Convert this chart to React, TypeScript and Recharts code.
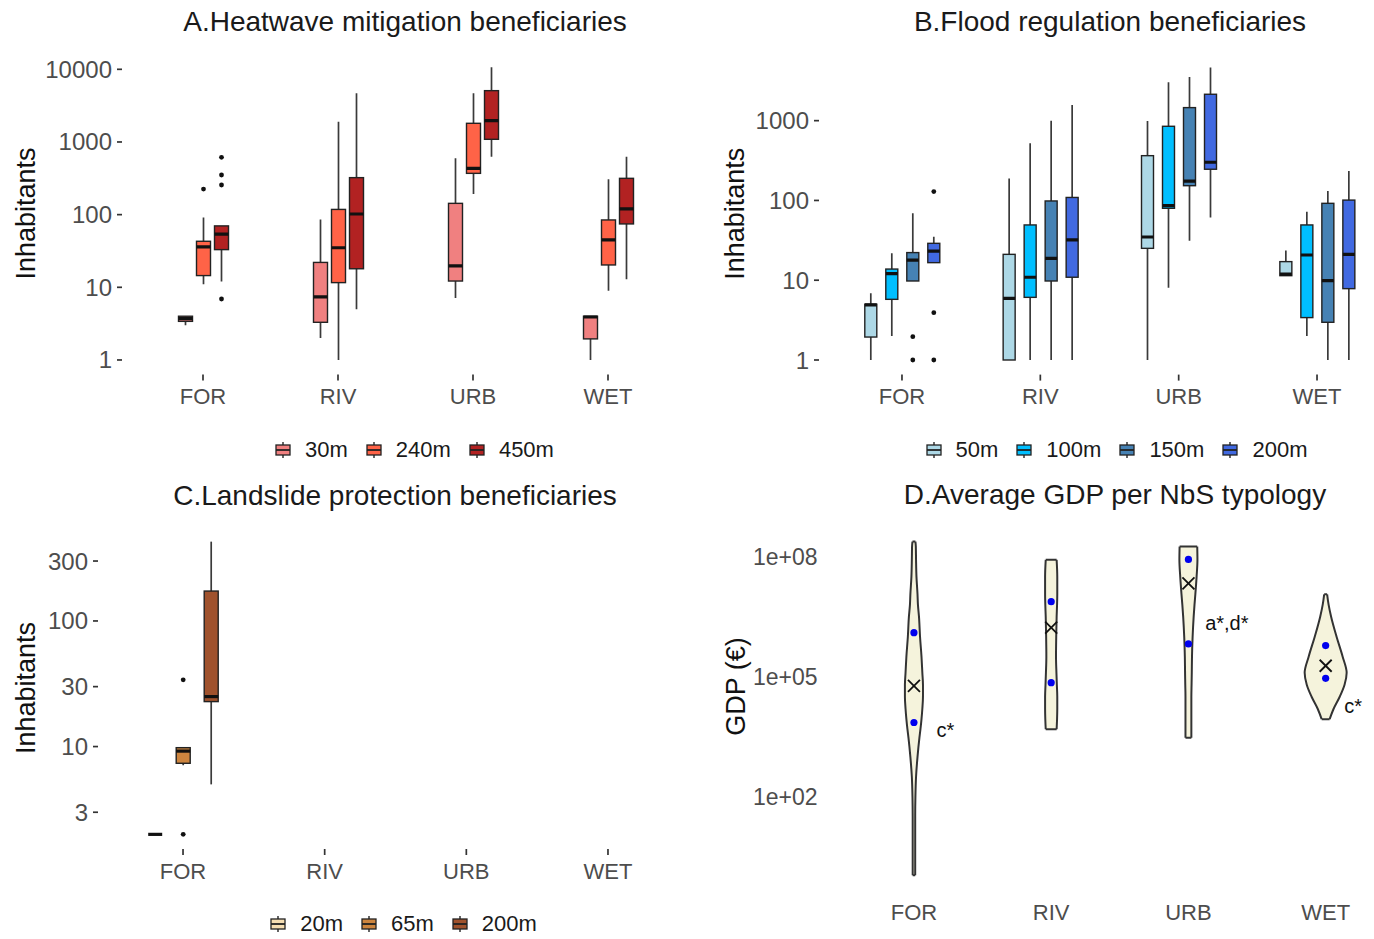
import React from "react";
import { ComposedChart, Bar, XAxis, YAxis, Area, Scatter } from "recharts";

const FONT = '"Liberation Sans", Arial, Helvetica, sans-serif';

const categories = ["FOR", "RIV", "URB", "WET"];

// ---------- A. Heatwave mitigation beneficiaries ----------
// each entry: [lower whisker, q1, median, q3, upper whisker] (inhabitants)
const heatNames = ["30m", "240m", "450m"];
const heatColors = ["#f08080", "#ff6347", "#b22222"];
const heat30m = [[3.0, 3.4, 3.7, 4.0, 4.0], [2.0, 3.3, 7.4, 22, 86], [7.1, 12.2, 19.7, 143, 596], [1, 1.95, 3.9, 4.0, 4.0]];
const heat240m = [[11, 14.5, 36, 43, 91], [1, 11.6, 35, 118, 1905], [192, 370, 434, 1807, 4677], [9, 20.3, 45, 84.5, 306]];
const heat450m = [[12, 33, 54, 70, 70], [5, 18, 102, 323, 4677], [628, 1088, 1966, 5085, 10660], [12.9, 74.5, 120, 316, 628]];
const heat30mOut = [[], [], [], []];
const heat240mOut = [[225], [], [], []];
const heat450mOut = [[615, 351, 256, 6.9], [], [], []];
const heatTicks = [1, 10, 100, 1000, 10000];

// ---------- B. Flood regulation beneficiaries ----------
const floodNames = ["50m", "100m", "150m", "200m"];
const floodColors = ["#add8e6", "#00bfff", "#4682b4", "#4169e1"];
const flood50m = [[1, 1.94, 4.9, 5.0, 6.85], [1, 1, 5.93, 21.1, 189], [1, 25.1, 34.8, 364, 991], [11.4, 11.4, 11.9, 17.1, 23.5]];
const flood100m = [[2.0, 5.76, 12.1, 13.8, 21.7], [1, 6.1, 10.9, 49.3, 520], [8.07, 79.7, 86.1, 850, 3027], [2.0, 3.4, 20.7, 49.3, 72.4]];
const flood150m = [[9.78, 9.78, 17.9, 22.2, 69], [1, 9.78, 18.8, 98.5, 1000], [31.3, 153, 175, 1457, 3532], [1, 2.97, 9.88, 92, 131]];
const flood200m = [[16.6, 16.6, 23.2, 29, 35], [1, 10.9, 32, 109, 1573], [60.9, 246, 301, 2142, 4624], [1, 7.84, 21.1, 101, 234]];
const flood50mOut = [[], [], [], []];
const flood100mOut = [[], [], [], []];
const flood150mOut = [[1.96, 1], [], [], []];
const flood200mOut = [[129, 3.92, 1], [], [], []];
const floodTicks = [1, 10, 100, 1000];

// ---------- C. Landslide protection beneficiaries ----------
const landNames = ["20m", "65m", "200m"];
const landColors = ["#f5deb3", "#cd853f", "#a0522d"];
const land20m = [[2, 2, 2, 2, 2], null, null, null];
const land65m = [[7.1, 7.36, 9.2, 9.8, 9.8], null, null, null];
const land200m = [[5.0, 22.8, 25, 173, 428], null, null, null];
const land20mOut = [[], [], [], []];
const land65mOut = [[34, 2], [], [], []];
const land200mOut = [[], [], [], []];
const landTicks = [3, 10, 30, 100, 300];

// ---------- D. Average GDP per NbS typology ----------
// log10(GDP) levels at which the violin densities are read
const gdpLogGrid = [0.04, 0.5, 1, 1.5, 2, 2.5, 3, 3.475, 3.69, 3.94, 4.2, 4.5, 4.8, 5.1, 5.5, 6, 6.5, 6.8, 7.06, 7.5, 7.92, 8.25, 8.375];
const densFOR = [0.06, 0.06, 0.06, 0.06, 0.07, 0.1, 0.17, 0.26, 0.31, 0.36, 0.4, 0.43, 0.43, 0.4, 0.36, 0.29, 0.24, 0.19, 0.17, 0.12, 0.1, 0.09, 0.07];
const densRIV = [null, null, null, null, null, null, null, null, 0.26, 0.28, 0.29, 0.29, 0.27, 0.25, 0.23, 0.24, 0.26, 0.28, 0.29, 0.29, 0.26, null, null];
const densURB = [null, null, null, null, null, null, null, 0.14, 0.14, 0.14, 0.14, 0.14, 0.15, 0.16, 0.17, 0.2, 0.25, 0.29, 0.33, 0.39, 0.43, 0.42, null];
const densWET = [null, null, null, null, null, null, null, null, null, 0.19, 0.38, 0.67, 0.9, 1, 0.81, 0.52, 0.26, 0.14, 0.07, null, null, null, null];
const gdpDots = [[1.26e6, 7.2e3], [7.5e6, 7.1e4], [8.5e7, 6.6e5], [6.0e5, 9.1e4]];
const gdpMeans = [5.9e4, 1.68e6, 2.14e7, 1.88e5];
const gdpLetters = ["c*", "", "a*,d*", "c*"];
const gdpLetterPos = [[0.23, 4.7e3], null, [2.28, 2.2e6], [3.2, 1.86e4]];
const gdpTicks = [1e2, 1e5, 1e8];

const VIOLIN_HALF = 0.153; // half width (category units) of density 1

type Stats = number[] | null;

function buildRows(keys: string[], stats: Stats[][], outs: number[][][]) {
  return categories.map((cat, i) => {
    const row: any = { cat };
    keys.forEach((k, si) => {
      const st = stats[si][i];
      if (!st) {
        row[k] = null;
        return;
      }
      const L = st.map((v) => Math.log10(v));
      const o = (outs[si][i] || []).map((v) => Math.log10(v));
      const lo = Math.min(L[0], ...o);
      const hi = Math.max(L[4], ...o);
      row[k] = [lo, hi];
      row[k + "_box"] = { min: L[0], q1: L[1], med: L[2], q3: L[3], max: L[4], out: o, lo, hi };
    });
    return row;
  });
}

const heatRows = buildRows(heatNames, [heat30m, heat240m, heat450m], [heat30mOut, heat240mOut, heat450mOut]);
const floodRows = buildRows(floodNames, [flood50m, flood100m, flood150m, flood200m], [flood50mOut, flood100mOut, flood150mOut, flood200mOut]);
const landRows = buildRows(landNames, [land20m, land65m, land200m], [land20mOut, land65mOut, land200mOut]);

const violinDens = [densFOR, densRIV, densURB, densWET];
const violinRows = gdpLogGrid.map((y, i) => {
  const row: any = { y };
  categories.forEach((c, ci) => {
    const d = violinDens[ci][i];
    row[c] = d == null ? [null, null] : [ci - d * VIOLIN_HALF, ci + d * VIOLIN_HALF];
  });
  return row;
});
const dotRows = gdpDots.flatMap((arr, ci) => arr.map((v) => ({ x: ci, y: Math.log10(v) })));
const meanRows = gdpMeans.map((v, ci) => ({ x: ci, y: Math.log10(v) }));
const letterRows = gdpLetters
  .map((t, ci) => (gdpLetterPos[ci] ? { x: gdpLetterPos[ci]![0], y: Math.log10(gdpLetterPos[ci]![1]), label: t } : null))
  .filter(Boolean) as any[];

const makeBoxShape = (key: string, color: string) => (props: any) => {
  const { x, y, width, height, payload } = props;
  const b = payload ? payload[key + "_box"] : null;
  if (!b || x == null || y == null) return <g />;
  const span = b.hi - b.lo;
  const py = (v: number) => (span > 0 ? y + (height * (b.hi - v)) / span : y);
  const cx = x + width / 2;
  const top = py(b.q3);
  const bot = py(b.q1);
  return (
    <g>
      <line x1={cx} x2={cx} y1={py(b.max)} y2={py(b.min)} stroke="#3a3a3a" strokeWidth={1.7} />
      <rect x={x} y={top} width={width} height={Math.max(0, bot - top)} fill={color} stroke="#222" strokeWidth={1.4} />
      <line x1={x} x2={x + width} y1={py(b.med)} y2={py(b.med)} stroke="#111" strokeWidth={3.2} />
      {b.out.map((o: number, i: number) => (
        <circle key={i} cx={cx} cy={py(o)} r={2.4} fill="#111" />
      ))}
    </g>
  );
};

function Legend({ names, colors, center, top }: { names: string[]; colors: string[]; center: number; top: number }) {
  return (
    <div
      style={{
        position: "absolute",
        left: center - 300,
        width: 600,
        top,
        height: 30,
        display: "flex",
        justifyContent: "center",
        alignItems: "center",
        fontSize: 22,
        color: "#1a1a1a",
        fontFamily: FONT,
      }}
    >
      {names.map((n, i) => (
        <div key={n} style={{ display: "flex", alignItems: "center", marginRight: i < names.length - 1 ? 17 : 0 }}>
          <svg width={18} height={18} style={{ display: "block" }}>
            <line x1={9} x2={9} y1={1} y2={17} stroke="#333" strokeWidth={1.5} />
            <rect x={2} y={4} width={14} height={10} fill={colors[i]} stroke="#222" strokeWidth={1.3} />
            <line x1={2} x2={16} y1={9} y2={9} stroke="#222" strokeWidth={1.8} />
          </svg>
          <span style={{ marginLeft: 13 }}>{n}</span>
        </div>
      ))}
    </div>
  );
}

function Title({ text, center, top }: { text: string; center: number; top: number }) {
  return (
    <div
      style={{
        position: "absolute",
        left: center - 350,
        width: 700,
        top,
        textAlign: "center",
        fontSize: 28,
        lineHeight: "28px",
        color: "#1a1a1a",
        fontFamily: FONT,
        whiteSpace: "nowrap",
      }}
    >
      {text}
    </div>
  );
}

const xTickStyle = { fill: "#4d4d4d", fontSize: 22 };
const yTickStyle = { fill: "#4d4d4d", fontSize: 24 };
const dTickStyle = { fill: "#4d4d4d", fontSize: 23 };
const axisTitleStyle = { textAnchor: "middle", fontSize: 27, fill: "#111" } as any;

function BoxPanel(p: {
  left: number;
  top: number;
  width: number;
  height: number;
  margin: any;
  yWidth: number;
  pad: number;
  domain: number[];
  ticks: number[];
  rows: any[];
  names: string[];
  colors: string[];
  barSize: number;
  barGap: number;
  labelOffset: number;
}) {
  return (
    <div style={{ position: "absolute", left: p.left, top: p.top }}>
      <ComposedChart width={p.width} height={p.height} data={p.rows} margin={p.margin} barGap={p.barGap}>
        <XAxis
          dataKey="cat"
          type="category"
          interval={0}
          padding={{ left: p.pad, right: p.pad }}
          axisLine={false}
          tickLine={{ stroke: "#333", strokeWidth: 1.7 }}
          tickSize={6}
          tickMargin={8}
          height={30}
          tick={xTickStyle}
        />
        <YAxis
          type="number"
          domain={p.domain as any}
          ticks={p.ticks.map((t) => Math.log10(t))}
          tickFormatter={(v: number) => String(Math.round(Math.pow(10, v)))}
          allowDataOverflow
          interval={0}
          width={p.yWidth}
          axisLine={false}
          tickLine={{ stroke: "#333", strokeWidth: 1.7 }}
          tickSize={5}
          tickMargin={5}
          tick={yTickStyle}
          label={{ value: "Inhabitants", angle: -90, position: "insideLeft", offset: p.labelOffset, style: axisTitleStyle }}
        />
        {p.names.map((n, i) => (
          <Bar
            key={n}
            dataKey={n}
            name={n}
            barSize={p.barSize}
            fill={p.colors[i]}
            isAnimationActive={false}
            shape={makeBoxShape(n, p.colors[i])}
          />
        ))}
      </ComposedChart>
    </div>
  );
}

function ViolinPanel() {
  const caps: any[] = [];
  categories.forEach((c, ci) => {
    const d = violinDens[ci];
    const first = d.findIndex((v) => v != null);
    let last = d.length - 1;
    while (d[last] == null) last--;
    [first, last].forEach((idx) => {
      const w = (d[idx] as number) * VIOLIN_HALF;
      caps.push({
        key: c + idx,
        data: [
          { x: ci - w, y: gdpLogGrid[idx] },
          { x: ci + w, y: gdpLogGrid[idx] },
        ],
      });
    });
  });
  return (
    <div style={{ position: "absolute", left: 700, top: 470 }}>
      <ComposedChart layout="vertical" width={720} height={469} data={violinRows} margin={{ top: 55, right: 12, bottom: 17, left: 0 }}>
        <XAxis
          type="number"
          domain={[-0.6, 3.6]}
          ticks={[0, 1, 2, 3]}
          tickFormatter={(v: number) => categories[v]}
          allowDataOverflow
          interval={0}
          axisLine={false}
          tickLine={false}
          tickSize={0}
          tickMargin={12}
          height={30}
          tick={xTickStyle}
        />
        <YAxis
          type="number"
          dataKey="y"
          reversed
          domain={[-0.377, 8.79]}
          ticks={gdpTicks.map((t) => Math.log10(t))}
          tickFormatter={(v: number) => "1e+" + String(Math.round(v)).padStart(2, "0")}
          allowDataOverflow
          interval={0}
          width={131.6}
          axisLine={false}
          tickLine={false}
          tickSize={0}
          tickMargin={14}
          tick={dTickStyle}
          label={{ value: "GDP (€)", angle: -90, position: "insideLeft", offset: 35, dy: -22, style: axisTitleStyle }}
        />
        {categories.map((c) => (
          <Area
            key={c}
            dataKey={c}
            type="monotone"
            stroke="#333"
            strokeWidth={2}
            fill="#f5f3dc"
            fillOpacity={1}
            isAnimationActive={false}
            dot={false}
            activeDot={false}
            connectNulls={false}
          />
        ))}
        {caps.map((cp) => (
          <Scatter
            key={cp.key}
            data={cp.data}
            dataKey="x"
            line={{ stroke: "#333", strokeWidth: 2 }}
            shape={() => <g />}
            isAnimationActive={false}
          />
        ))}
        <Scatter
          data={dotRows}
          dataKey="x"
          isAnimationActive={false}
          shape={(pp: any) => <circle cx={pp.cx} cy={pp.cy} r={3.6} fill="#0000ee" />}
        />
        <Scatter
          data={meanRows}
          dataKey="x"
          isAnimationActive={false}
          shape={(pp: any) => (
            <g stroke="#111" strokeWidth={1.8}>
              <line x1={pp.cx - 6} x2={pp.cx + 6} y1={pp.cy - 6} y2={pp.cy + 6} />
              <line x1={pp.cx - 6} x2={pp.cx + 6} y1={pp.cy + 6} y2={pp.cy - 6} />
            </g>
          )}
        />
        <Scatter
          data={letterRows}
          dataKey="x"
          isAnimationActive={false}
          shape={(pp: any) => (
            <text x={pp.cx} y={pp.cy} textAnchor="middle" dominantBaseline="central" fontSize={20} fill="#111">
              {pp.payload.label}
            </text>
          )}
        />
      </ComposedChart>
    </div>
  );
}

export default function App() {
  return (
    <div
      style={{
        position: "absolute",
        left: 0,
        top: 0,
        width: 1374,
        height: 939,
        overflow: "hidden",
        background: "#fff",
        fontFamily: FONT,
      }}
    >
      <Title text="A.Heatwave mitigation beneficiaries" center={405} top={8} />
      <Title text="B.Flood regulation beneficiaries" center={1110} top={8} />
      <Title text="C.Landslide protection beneficiaries" center={395} top={482} />
      <Title text="D.Average GDP per NbS typology" center={1115} top={481} />

      <BoxPanel
        left={0}
        top={0}
        width={700}
        height={470}
        margin={{ top: 52.6, right: 11, bottom: 65.5, left: 0 }}
        yWidth={122}
        pad={13.5}
        domain={[-0.2, 4.23]}
        ticks={heatTicks}
        rows={heatRows}
        names={heatNames}
        colors={heatColors}
        barSize={14}
        barGap={4}
        labelOffset={25}
      />
      <BoxPanel
        left={700}
        top={0}
        width={700}
        height={470}
        margin={{ top: 53, right: 0, bottom: 65.4, left: 0 }}
        yWidth={119}
        pad={13.8}
        domain={[-0.183, 3.848]}
        ticks={floodTicks}
        rows={floodRows}
        names={floodNames}
        colors={floodColors}
        barSize={12}
        barGap={9}
        labelOffset={34}
      />
      <BoxPanel
        left={0}
        top={470}
        width={700}
        height={469}
        margin={{ top: 57, right: 7, bottom: 60, left: 0 }}
        yWidth={98}
        pad={14.2}
        domain={[0.1845, 2.748]}
        ticks={landTicks}
        rows={landRows}
        names={landNames}
        colors={landColors}
        barSize={14}
        barGap={14}
        labelOffset={25}
      />
      <ViolinPanel />

      <Legend names={heatNames} colors={heatColors} center={414} top={435} />
      <Legend names={floodNames} colors={floodColors} center={1116} top={435} />
      <Legend names={landNames} colors={landColors} center={403} top={909} />
    </div>
  );
}
